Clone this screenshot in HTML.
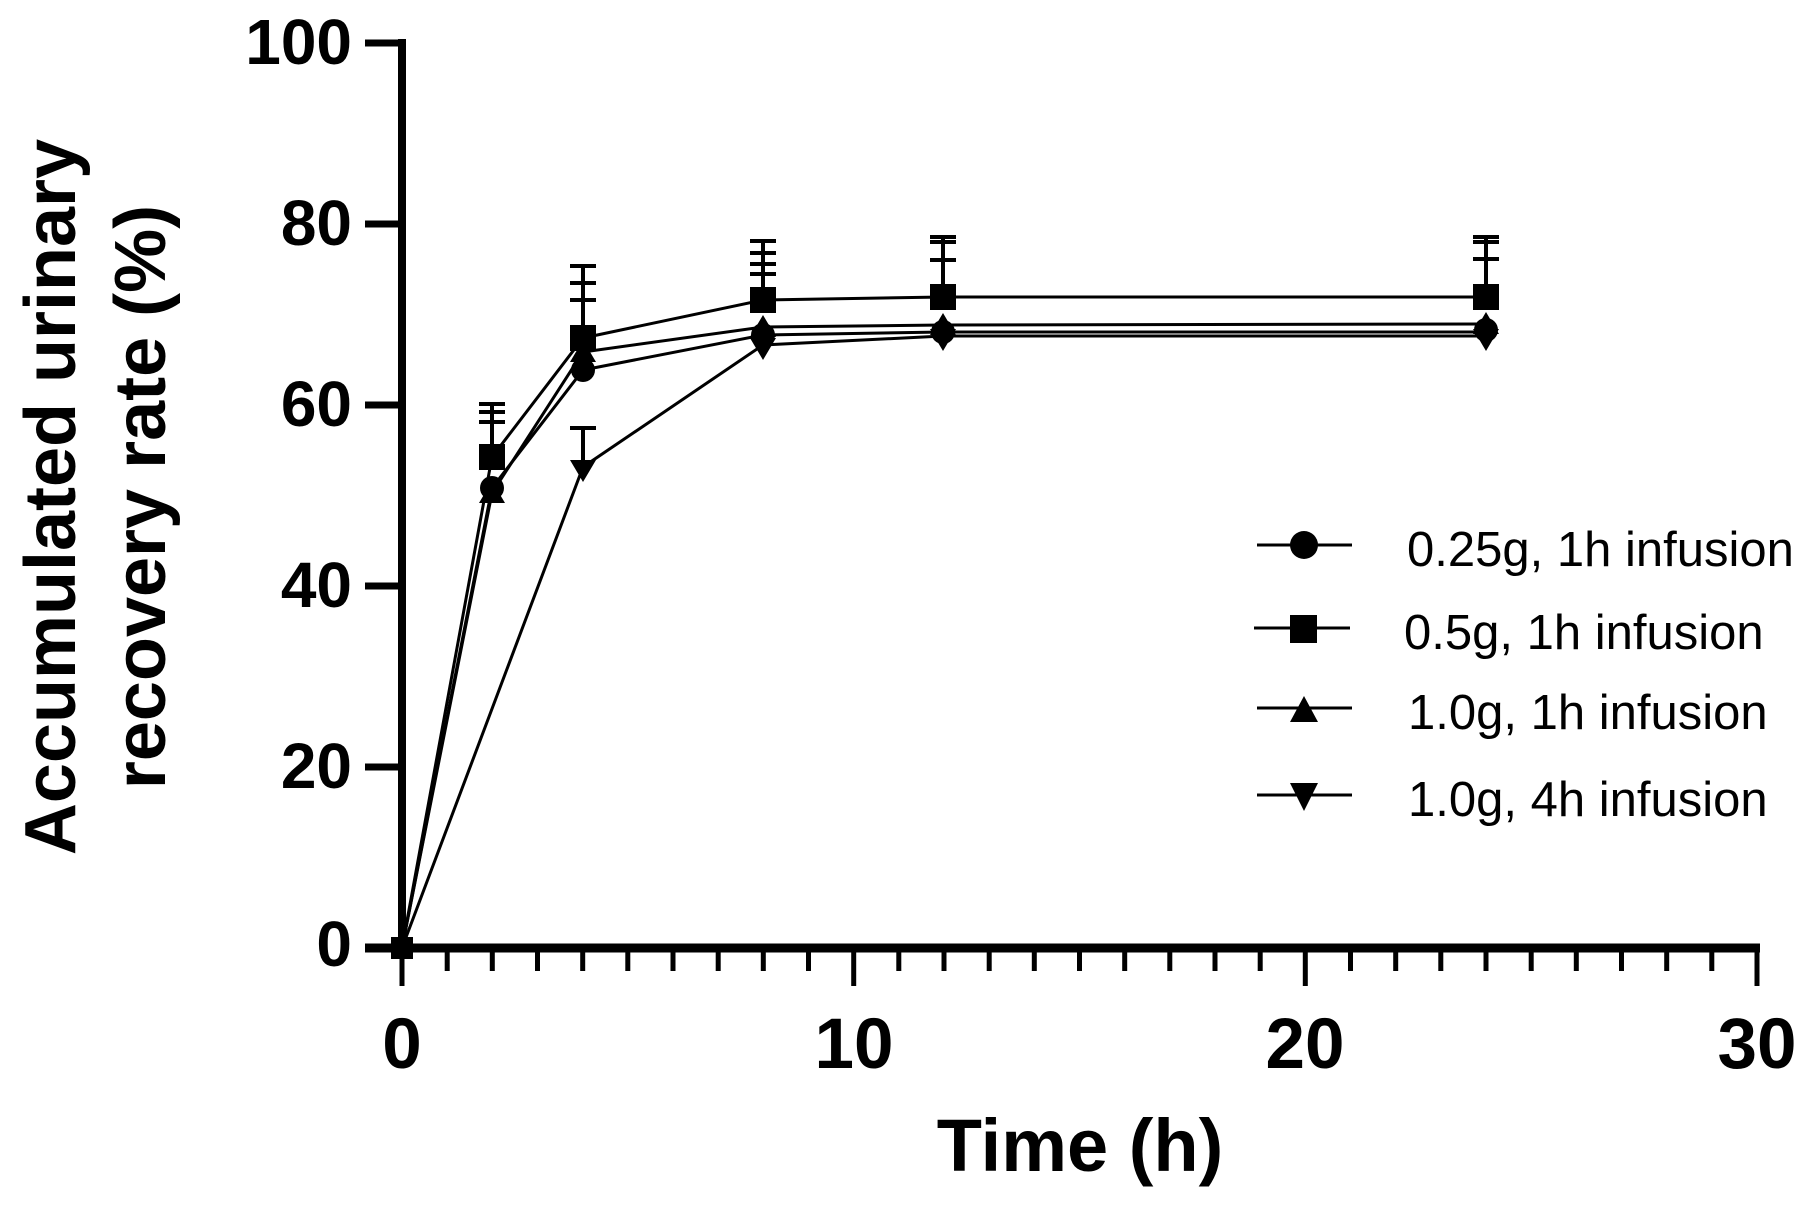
<!DOCTYPE html>
<html><head><meta charset="utf-8"><style>
html,body{margin:0;padding:0;background:#fff}
svg{display:block}
text{font-family:"Liberation Sans",Arial,sans-serif;fill:#000}
</style></head><body>
<svg width="1813" height="1206" viewBox="0 0 1813 1206" xmlns="http://www.w3.org/2000/svg">
<rect width="1813" height="1206" fill="#fff"/>
<g font-weight="bold" font-size="72">
<text transform="translate(75,497) rotate(-90)" text-anchor="middle">Accumulated urinary</text>
<text transform="translate(165,497) rotate(-90)" text-anchor="middle">recovery rate (%)</text>
</g>
<g stroke="#000" fill="none">
<line x1="402" y1="39" x2="402" y2="952" stroke-width="8"/>
<g stroke-width="7">
<line x1="365" y1="43" x2="402" y2="43"/>
<line x1="365" y1="224" x2="402" y2="224"/>
<line x1="365" y1="405" x2="402" y2="405"/>
<line x1="365" y1="586" x2="402" y2="586"/>
<line x1="365" y1="767" x2="402" y2="767"/>
<line x1="365" y1="948" x2="402" y2="948"/>
</g>
<line x1="365" y1="948" x2="1760" y2="948" stroke-width="9"/>
<g stroke-width="5">
<line x1="402" y1="948" x2="402" y2="986"/>
<line x1="853.7" y1="948" x2="853.7" y2="986"/>
<line x1="1305.3" y1="948" x2="1305.3" y2="986"/>
<line x1="1757" y1="948" x2="1757" y2="986"/>
</g>
<path stroke-width="5" d="
M447.2 948V971 M492.3 948V971 M537.5 948V971 M582.7 948V971 M627.8 948V971 M673 948V971 M718.2 948V971 M763.3 948V971 M808.5 948V971
M898.8 948V971 M944 948V971 M989.2 948V971 M1034.3 948V971 M1079.5 948V971 M1124.7 948V971 M1169.8 948V971 M1215 948V971 M1260.2 948V971
M1350.5 948V971 M1395.7 948V971 M1440.8 948V971 M1486 948V971 M1531.2 948V971 M1576.3 948V971 M1621.5 948V971 M1666.7 948V971 M1711.8 948V971"/>
</g>
<g font-weight="bold" font-size="64" text-anchor="end">
<text x="352" y="64">100</text>
<text x="352" y="245">80</text>
<text x="352" y="426">60</text>
<text x="352" y="607">40</text>
<text x="352" y="788">20</text>
<text x="352" y="966">0</text>
</g>
<g font-weight="bold" font-size="71" text-anchor="middle">
<text x="402" y="1068">0</text>
<text x="854" y="1068">10</text>
<text x="1305" y="1068">20</text>
<text x="1757" y="1068">30</text>
</g>
<text x="1080" y="1171" font-weight="bold" font-size="74" text-anchor="middle">Time (h)</text>

<g stroke="#000" stroke-width="3" fill="none">
<polyline points="402,948 492,457 583,338 763,300 943,297 1486,297"/>
<polyline points="402,948 492,493 583,352 763,327 943,325 1486,324"/>
<polyline points="402,948 492,488 583,370 763,335 943,332 1486,332"/>
<polyline points="402,948 583,467 763,345 943,336 1486,336"/>
</g>
<g stroke="#000" stroke-width="4">
<line x1="492" y1="404" x2="492" y2="457"/>
<line x1="479" y1="404" x2="505" y2="404"/><line x1="479" y1="412" x2="505" y2="412"/><line x1="479" y1="422" x2="505" y2="422"/>
<line x1="583" y1="266" x2="583" y2="338"/>
<line x1="570" y1="266" x2="596" y2="266"/><line x1="570" y1="283" x2="596" y2="283"/><line x1="570" y1="300" x2="596" y2="300"/>
<line x1="583" y1="428" x2="583" y2="467"/>
<line x1="570" y1="428" x2="596" y2="428"/>
<line x1="763" y1="241" x2="763" y2="300"/>
<line x1="750" y1="241" x2="776" y2="241"/><line x1="750" y1="253" x2="776" y2="253"/><line x1="750" y1="264" x2="776" y2="264"/><line x1="750" y1="274" x2="776" y2="274"/>
<line x1="943" y1="237" x2="943" y2="297"/>
<line x1="930" y1="237" x2="956" y2="237"/><line x1="930" y1="242" x2="956" y2="242"/><line x1="930" y1="260" x2="956" y2="260"/>
<line x1="1486" y1="237" x2="1486" y2="297"/>
<line x1="1473" y1="237" x2="1499" y2="237"/><line x1="1473" y1="242" x2="1499" y2="242"/><line x1="1473" y1="259" x2="1499" y2="259"/>
</g>
<g fill="#000">
<path d="M570 460h26l-13 22z M750 338h26l-13 22z M930 329h26l-13 22z M1473 329h26l-13 22z"/>
<path d="M492 481l13 22h-26z M583 340l13 22h-26z M763 315l13 22h-26z M943 313l13 22h-26z M1486 312l13 22h-26z"/>
<circle cx="492" cy="488" r="12"/><circle cx="583" cy="370" r="12"/><circle cx="763" cy="335" r="12"/><circle cx="943" cy="332" r="12"/><circle cx="1486" cy="330" r="12"/>
<rect x="479" y="444" width="26" height="26"/><rect x="570" y="325" width="26" height="26"/><rect x="750" y="287" width="26" height="26"/><rect x="930" y="284" width="26" height="26"/><rect x="1473" y="284" width="26" height="26"/>
<rect x="391" y="937" width="22" height="22"/>
</g>

<g stroke="#000" stroke-width="3">
<line x1="1257" y1="545" x2="1352" y2="545"/>
<line x1="1254" y1="628" x2="1350" y2="628"/>
<line x1="1257" y1="708" x2="1352" y2="708"/>
<line x1="1257" y1="795" x2="1352" y2="795"/>
</g>
<g fill="#000">
<circle cx="1304" cy="545" r="14"/>
<rect x="1290" y="615" width="27" height="28"/>
<path d="M1304 696l14 26h-28z"/>
<path d="M1290 783h28l-14 28z"/>
</g>
<g font-size="49">
<text x="1407" y="566">0.25g, 1h infusion</text>
<text x="1404" y="649">0.5g, 1h infusion</text>
<text x="1408" y="729">1.0g, 1h infusion</text>
<text x="1408" y="816">1.0g, 4h infusion</text>
</g>
</svg>
</body></html>
